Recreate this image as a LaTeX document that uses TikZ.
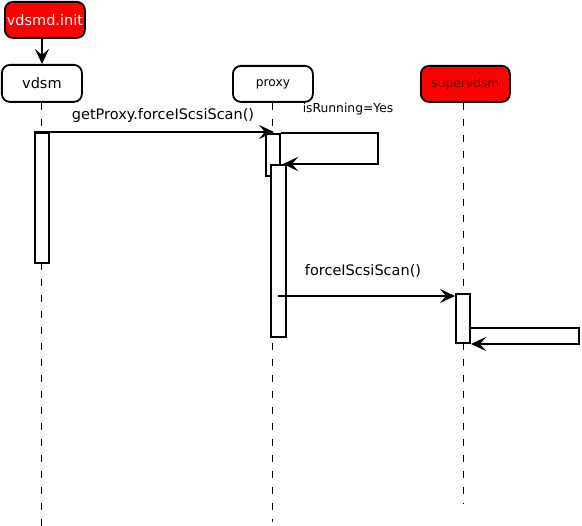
\documentclass[tikz,border=0pt]{standalone}
\usepackage{fontspec}
\setmainfont{DejaVu Sans}
\usetikzlibrary{arrows.meta}
\definecolor{boxred}{RGB}{255,0,0}
\definecolor{darkred}{RGB}{110,0,0}
\tikzset{
  actor/.style={draw=black, line width=1.8pt, rounded corners=8pt, minimum height=37pt, inner sep=0pt, anchor=north west},
  act/.style={draw=black, fill=white, line width=2.2pt, minimum width=14pt, inner sep=0pt, anchor=north west},
  life/.style={line width=1pt, dash pattern=on 7pt off 9pt},
  msg/.style={line width=2.2pt, -{Stealth[length=15pt,width=14pt,inset=6pt]}},
  big/.style={font=\fontsize{14.5}{16}\selectfont},
  small/.style={font=\fontsize{12.3}{14}\selectfont},
}
\begin{document}
\begin{tikzpicture}[x=1pt,y=-1pt]
\useasboundingbox (0,0) rectangle (582,526);
% actors
\node[actor, fill=boxred, minimum width=80pt, minimum height=36pt, text=white, big] (init) at (4,1) {vdsmd.init};
\node[actor, minimum width=80pt, big] (vdsm) at (1,64) {vdsm};
\node[actor, minimum width=80pt, minimum height=36pt, small] (proxy) at (232,65) {proxy};
\node[actor, fill=boxred, minimum width=89pt, minimum height=36pt, text=darkred, small] (super) at (420,65) {supervdsm};
% lifelines
\coordinate (vend) at (41,526);
\coordinate (pend) at (272,522);
\coordinate (send) at (463,503);
\draw[life] (vdsm.south -| vend) -- (vend);
\draw[life] (proxy.south -| pend) -- (pend);
\draw[life] (super.south -| send) -- (send);
% init arrow
\draw[msg] (init.south -| 42,0) -- (vdsm.north -| 42,0);
% activations
\node[act, minimum height=130pt] (va) at (34,132) {};
\node[act, minimum height=42pt] (pa1) at (265,133) {};
\node[act, minimum height=172pt, minimum width=15pt] (pa2) at (270,164) {};
\node[act, minimum height=49pt] (sa) at (455,293) {};
% message 1
\coordinate (m1end) at (274,132);
\draw[msg] (va.north west) -- (m1end);
\node[big, anchor=south] (l1) at (163,126) {getProxy.forceIScsiScan()};
% self message 1
\coordinate (s1a) at (378,133);
\coordinate (s1b) at (378,164);
\coordinate (s1end) at (283,164);
\draw[msg] (pa1.north east) -- (s1a) -- (s1b) -- (s1end);
\node[small, anchor=south] (l2) at (348,119) {isRunning=Yes};
% message 2
\coordinate (m2start) at (278,296);
\draw[msg] (m2start) -- (sa.west |- m2start);
\node[big, anchor=south] (l3) at (363,281) {forceIScsiScan()};
% self message 2
\coordinate (s2a) at (579,328);
\coordinate (s2b) at (579,344);
\coordinate (s2end) at (471,344);
\draw[msg] (sa.east |- s2a) -- (s2a) -- (s2b) -- (s2end);
\end{tikzpicture}
\end{document}
